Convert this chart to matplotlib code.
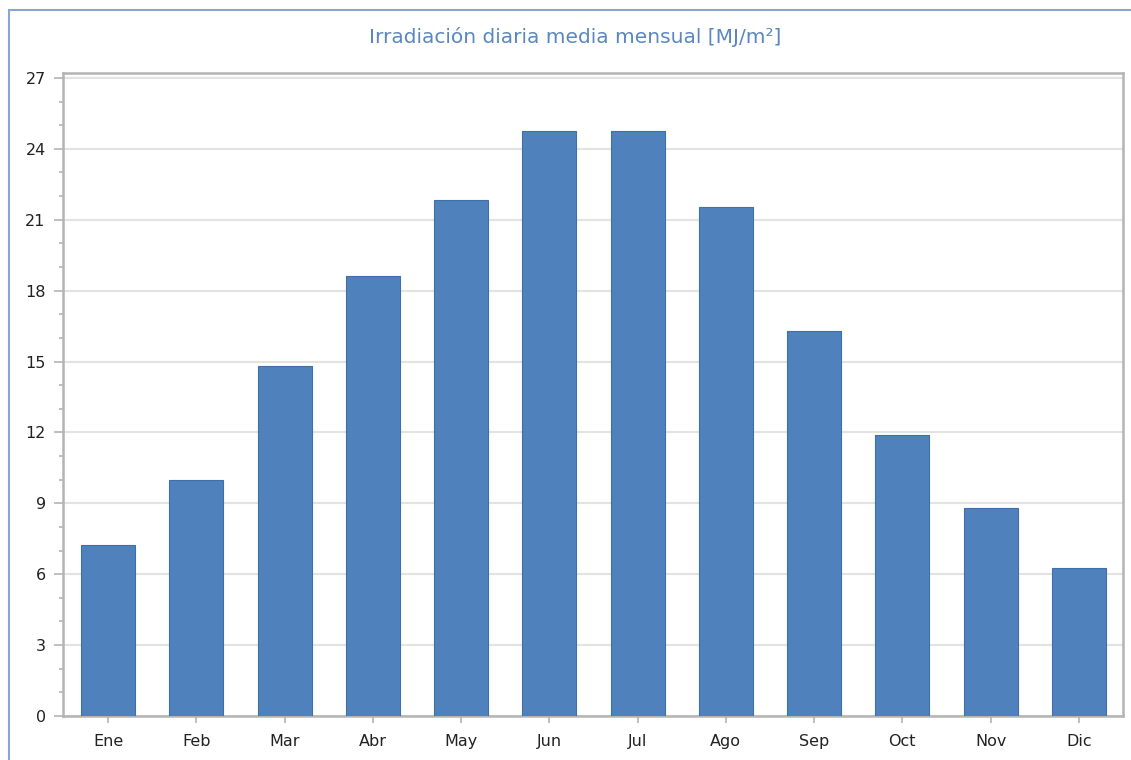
import matplotlib.pyplot as plt
from matplotlib.patches import Rectangle
from matplotlib.ticker import MultipleLocator

months = ["Ene", "Feb", "Mar", "Abr", "May", "Jun",
          "Jul", "Ago", "Sep", "Oct", "Nov", "Dic"]
irradiation = [7.23, 9.99, 14.8, 18.63, 21.85, 24.77,
               24.77, 21.55, 16.3, 11.87, 8.81, 6.27]
y_ticks = [0, 3, 6, 9, 12, 15, 18, 21, 24, 27]

title = "Irradiación diaria media mensual [MJ/m²]"

fig = plt.figure(figsize=(11.31, 7.60), dpi=100)
fig.patch.set_facecolor("white")

# outer panel border (top and left edges visible)
fig.patches.append(Rectangle((9 / 1131, -0.1), 1.2, 1.1 - 10.5 / 760,
                             transform=fig.transFigure, fill=False,
                             edgecolor="#8aa6cf", linewidth=1.5))

ax = fig.add_axes([63 / 1131, 44 / 760, 1060 / 1131, 643 / 760])

x = range(len(months))
ax.bar(x, irradiation, width=0.612, color="#4f81bd",
       edgecolor="#3f6fa6", linewidth=0.8, zorder=3)

ax.set_xlim(-0.51, 11.5)
ax.set_ylim(0, 27.21)
ax.set_xticks(list(x))
ax.set_xticklabels(months)
ax.set_yticks(y_ticks)
ax.yaxis.set_minor_locator(MultipleLocator(1))

ax.grid(axis="y", color="#e3e3e3", linewidth=1.5, zorder=0)
ax.set_axisbelow(True)

for side in ["left", "right", "top", "bottom"]:
    ax.spines[side].set_color("#b4b4b4")
    ax.spines[side].set_linewidth(1.8)

ax.tick_params(axis="y", which="major", length=6.5, width=1.2,
               color="#b4b4b4", pad=6, labelsize=11.5, labelcolor="#222222")
ax.tick_params(axis="y", which="minor", length=3, width=1.2, color="#b4b4b4")
ax.tick_params(axis="x", which="major", length=5, width=1.2,
               color="#b4b4b4", pad=8, labelsize=11.5, labelcolor="#222222")

fig.text(575 / 1131, 1 - 37 / 760, title, ha="center", va="center",
         fontsize=14.5, color="#5a87c2")

fig.savefig("out.png", dpi=100)
